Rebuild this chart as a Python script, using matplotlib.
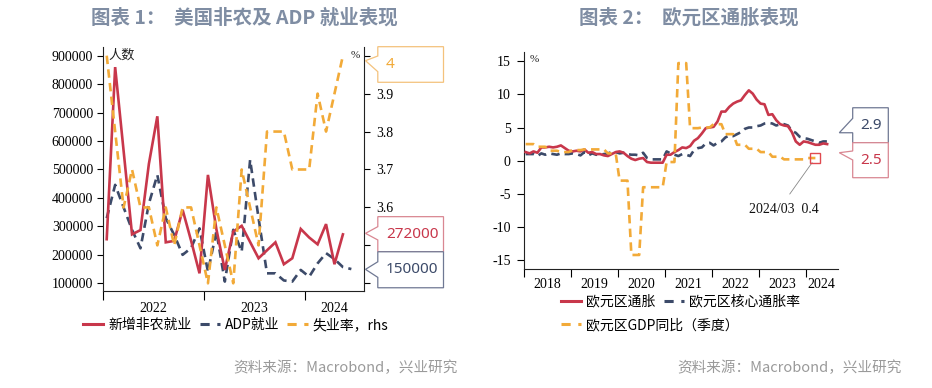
import numpy as np
import matplotlib
matplotlib.use('Agg')
import matplotlib.pyplot as plt
from matplotlib.patches import Polygon
from matplotlib.lines import Line2D
from matplotlib.transforms import IdentityTransform

plt.rcParams['font.family'] = ['Noto Sans CJK SC', 'DejaVu Sans']
plt.rcParams['axes.unicode_minus'] = False

# ---------------- Chart 1 data (monthly, from 2022-01) ----------------
years1 = ['2022', '2023', '2024']
nfp = [255000, 860000, 566000, 272000, 287000, 520000, 687000, 244000, 249000,
       358000, 250000, 135000, 481000, 290000, 147000, 282000, 302000, 245000,
       188000, 216000, 244000, 167000, 188000, 291000, 261000, 237000, 308000,
       167000, 272000]
adp = [329000, 446000, 367000, 288000, 223000, 380000, 481000, 329000, 270000,
       200000, 224000, 293000, 141000, 282000, 106000, 288000, 211000, 534000,
       329000, 135000, 135000, 110000, 106000, 147000, 123000, 170000, 206000,
       185000, 157000, 150000]
unemp = [4.0, 3.8, 3.6, 3.7, 3.6, 3.6, 3.5, 3.6, 3.5, 3.6, 3.6, 3.5, 3.4, 3.6,
         3.5, 3.4, 3.7, 3.6, 3.5, 3.8, 3.8, 3.8, 3.7, 3.7, 3.7, 3.9, 3.8, 3.9, 4.0]
labels1 = ['新增非农就业', 'ADP就业', '失业率，rhs']
rhs_ticks = [3.4, 3.5, 3.6, 3.7, 3.8, 3.9, 4.0]
rhs_labels = ['', '', '3.6', '3.7', '3.8', '3.9', '']

# ---------------- Chart 2 data (monthly from 2018-01; GDP quarterly) ----------------
years2 = ['2018', '2019', '2020', '2021', '2022', '2023', '2024']
hicp = [1.3, 1.1, 1.4, 1.2, 2.0, 2.0, 2.1, 2.0, 2.1, 2.3, 1.9, 1.5,
        1.4, 1.5, 1.4, 1.7, 1.2, 1.3, 1.0, 1.0, 0.8, 0.7, 1.0, 1.3,
        1.4, 1.2, 0.7, 0.3, 0.1, 0.3, 0.4, -0.2, -0.3, -0.3, -0.3, -0.3,
        0.9, 0.9, 1.3, 1.6, 2.0, 1.9, 2.2, 3.0, 3.4, 4.1, 4.9, 5.0,
        5.1, 5.9, 7.4, 7.4, 8.1, 8.6, 8.9, 9.1, 9.9, 10.6, 10.1, 9.2,
        8.6, 8.5, 6.9, 7.0, 6.1, 5.5, 5.3, 5.2, 4.3, 2.9, 2.4, 2.9,
        2.8, 2.6, 2.4, 2.4, 2.6, 2.5]
core = [1.0, 1.0, 1.0, 0.7, 1.1, 0.9, 1.1, 1.0, 0.9, 1.1, 1.0, 1.0,
        1.1, 1.0, 0.8, 1.3, 0.8, 1.1, 0.9, 0.9, 1.0, 1.1, 1.3, 1.3,
        1.1, 1.2, 1.0, 0.9, 0.9, 0.8, 1.2, 0.4, 0.2, 0.2, 0.2, 0.2,
        1.4, 1.1, 0.9, 0.7, 1.0, 0.9, 0.7, 1.6, 1.9, 2.0, 2.6, 2.7,
        2.3, 2.7, 2.9, 3.5, 3.8, 3.7, 4.0, 4.3, 4.8, 5.0, 5.0, 5.2,
        5.3, 5.6, 5.7, 5.6, 5.3, 5.5, 5.5, 5.3, 4.5, 4.2, 3.6, 3.4,
        3.3, 3.1, 2.9, 2.7, 2.9, 2.9]
gdp_q = [2.5, 2.1, 1.5, 1.3, 1.6, 1.7, 1.7, 1.1, -3.0, -14.2, -4.0, -4.0,
         -0.2, 14.7, 4.9, 5.0, 5.5, 4.0, 2.4, 1.8, 1.3, 0.6, 0.2, 0.2, 0.4]
labels2 = ['欧元区通胀', '欧元区核心通胀率', '欧元区GDP同比（季度）']
gdp_note = '2024/03  0.4'

source = '资料来源：Macrobond，兴业研究'

RED = '#c8374b'
NAVY = '#3c4a69'
ORANGE = '#f2aa38'
TITLE_C = '#7f8da3'
W, H = 932, 388
SERIF = ['Liberation Serif', 'DejaVu Serif']

fig = plt.figure(figsize=(W / 100, H / 100), dpi=100)


def fx(px):
    return px / W


def fy(py):
    return 1 - py / H


# ================= Chart 1 =================
ax1 = fig.add_axes([fx(102.5), fy(291), fx(364 - 102.5), (291 - 47) / H])
ax1r = ax1.twinx()
x_nfp = np.arange(len(nfp)) + 0.5
x_adp = np.arange(len(adp)) + 0.5
x_un = np.arange(len(unemp)) + 0.5
DASH = (3.2, 2.0)
ax1.plot(x_nfp, nfp, color=RED, lw=1.9, solid_joinstyle='miter', zorder=3)
ax1.plot(x_adp, adp, color=NAVY, lw=1.9, dashes=DASH, zorder=2)
ax1r.plot(x_un, unemp, color=ORANGE, lw=1.9, dashes=DASH, zorder=2)

ax1.set_xlim(0, 31)
ax1.set_ylim(72900, 930600)
ax1r.set_ylim(3.3797, 4.0229)
ax1.set_yticks(np.arange(100000, 900001, 100000))
ax1.set_yticklabels([str(v) for v in range(100000, 900001, 100000)], family=SERIF, fontsize=10)
ax1r.set_yticks(rhs_ticks)
ax1r.set_yticklabels(rhs_labels, family=SERIF, fontsize=10)
ax1.set_xticks([0, 12, 24])
ax1.set_xticklabels([])
ax1.set_xticks([6, 18, 27.5], minor=True)
ax1.set_xticklabels(years1, minor=True, family=SERIF, fontsize=10)
ax1.tick_params(axis='x', which='major', length=6.5, width=0.8, direction='out')
ax1.tick_params(axis='x', which='minor', length=0, pad=8)
ax1.tick_params(axis='y', length=4.3, width=0.8, direction='out', pad=2.5)
ax1r.tick_params(axis='y', length=4.3, width=0.8, direction='out', pad=4.8)
for a in (ax1, ax1r):
    a.spines['top'].set_visible(False)
    a.patch.set_visible(False)
ax1.spines['right'].set_visible(False)
ax1r.spines['left'].set_visible(False)
ax1r.spines['bottom'].set_visible(False)
for sp in ['left', 'bottom']:
    ax1.spines[sp].set_linewidth(0.8)
    ax1.spines[sp].set_color('#222222')
ax1r.spines['right'].set_linewidth(0.8)
ax1r.spines['right'].set_color('#222222')

fig.text(fx(108), fy(55), '人数', fontsize=9.5, va='center', ha='left', color='#222')
fig.text(fx(351), fy(55), '%', fontsize=8, va='center', ha='left', color='#222', family=SERIF)

# legend chart 1
h1 = [Line2D([], [], color=RED, lw=2.2),
      Line2D([], [], color=NAVY, lw=2.2, dashes=(3, 2.5)),
      Line2D([], [], color=ORANGE, lw=2.2, dashes=(3, 2.5))]
fig.legend(h1, labels1, loc='center left', bbox_to_anchor=(fx(83), fy(325)), ncol=3,
           frameon=False, fontsize=10, handlelength=1.45, handletextpad=0.35,
           columnspacing=0.6, borderpad=0, borderaxespad=0)


# ================= Chart 2 =================
ax2 = fig.add_axes([fx(523.7), fy(269.3), fx(837.7 - 523.7), (269.3 - 51.7) / H])
xm = np.arange(len(hicp)) + 0.5
gdp_m = np.repeat(gdp_q, 3)
xg = np.arange(len(gdp_m)) + 0.5
ax2.plot(xm, hicp, color=RED, lw=1.9, zorder=3)
ax2.plot(np.arange(len(core)) + 0.5, core, color=NAVY, lw=1.9, dashes=DASH, zorder=2)
ax2.plot(xg, gdp_m, color=ORANGE, lw=1.9, dashes=DASH, zorder=4)
ax2.plot([xg[-1]], [gdp_m[-1]], marker='s', ms=7, mfc='none', mec='#e0494f', mew=1.0, zorder=5)
ax2.annotate(gdp_note, xy=(xg[-1], gdp_m[-1]), xytext=(-22.8, -36.7), textcoords='offset points',
             ha='center', va='center', fontsize=10, family=SERIF, color='#111',
             arrowprops=dict(arrowstyle='-', color='#888888', lw=0.6, shrinkA=5, shrinkB=4,
                             relpos=(0.5, 1.0)))

ax2.set_xlim(0, 80.2)
ax2.set_ylim(-16.36, 16.42)
yt = np.arange(-15, 16, 5)
ax2.set_yticks(yt)
ax2.set_yticklabels([str(v) for v in yt], family=SERIF, fontsize=10)
ax2.set_xticks(np.arange(0, 73, 12))
ax2.set_xticklabels([])
ax2.set_xticks(list(np.arange(6, 67, 12)) + [(72 + 80.2) / 2], minor=True)
ax2.set_xticklabels(years2, minor=True, family=SERIF, fontsize=10)
ax2.tick_params(axis='x', which='major', length=5.5, width=0.8, direction='out')
ax2.tick_params(axis='x', which='minor', length=0, pad=6.5)
ax2.tick_params(axis='y', length=5, width=0.8, direction='out', pad=4.5)
ax2.spines['top'].set_visible(False)
ax2.spines['right'].set_visible(False)
for sp in ['left', 'bottom']:
    ax2.spines[sp].set_linewidth(0.8)
    ax2.spines[sp].set_color('#222222')
ax2.patch.set_visible(False)
fig.text(fx(530), fy(60), '%', fontsize=8, va='center', ha='left', color='#222', family=SERIF)

h2a = [Line2D([], [], color=RED, lw=2.2), Line2D([], [], color=NAVY, lw=2.2, dashes=(3, 2.5))]
fig.legend(h2a, labels2[:2], loc='center left', bbox_to_anchor=(fx(561), fy(301.7)), ncol=2,
           frameon=False, fontsize=10, handlelength=1.45, handletextpad=0.35,
           columnspacing=0.6, borderpad=0, borderaxespad=0)
h2b = [Line2D([], [], color=ORANGE, lw=2.2, dashes=(3, 2.5))]
fig.legend(h2b, labels2[2:], loc='center left', bbox_to_anchor=(fx(561), fy(325)), ncol=1,
           frameon=False, fontsize=10, handlelength=1.45, handletextpad=0.35,
           borderpad=0, borderaxespad=0)


# ================= Callouts =================
def callout(ax, value, text, ec, tc, tip_dx, tip_dy, box_dx, box_w, box_top, box_h, base_top, base_bot):
    """Offsets in pixels relative to the point (axis right edge, value); downward positive."""
    tx, ty = ax.get_yaxis_transform().transform((1.0, value))
    tipx, tipy = tx + tip_dx, ty - tip_dy
    L = tx + box_dx
    R = L + box_w
    T = ty - box_top
    B = T - box_h
    verts = [(L, T), (R, T), (R, B), (L, B), (L, ty - base_bot), (tipx, tipy), (L, ty - base_top)]
    p = Polygon(verts, closed=True, transform=IdentityTransform(), facecolor='white',
                edgecolor=ec, lw=0.9, zorder=10)
    fig.add_artist(p)
    fig.text(L + 8, (T + B) / 2, text, transform=IdentityTransform(), ha='left', va='center',
             fontsize=11, color=tc, family=['Noto Sans', 'DejaVu Sans'], zorder=11)


callout(ax1r, unemp[-1], '%g' % unemp[-1], '#f4c27c', ORANGE, 1.5, 5, 13.8, 65.7, -9, 35.6, 0.3, 16)
callout(ax1, nfp[-1], str(nfp[-1]), '#d98792', RED, 1.5, -1, 13.8, 65.7, -17.7, 35.0, -7.7, 5.6)
callout(ax1, adp[-1], str(adp[-1]), '#6f7893', NAVY, 1.5, 0.3, 13.8, 65.7, -17.3, 36.0, -7.3, 8.3)
callout(ax2, core[-1], '%g' % core[-1], '#6f7893', NAVY, 1.6, -8.7, 15, 35.6, -33.7, 35.0, -23.1, -8.7)
callout(ax2, hicp[-1], '%g' % hicp[-1], '#d98792', RED, 1.6, 8.6, 15, 35.6, -1.4, 35.0, 6.9, 15.9)

# ================= Titles & sources =================
fig.text(fx(244.5), fy(17.5), '图表 1：  美国非农及 ADP 就业表现', ha='center', va='center',
         fontsize=14, fontweight='bold', color=TITLE_C)
fig.text(fx(688.5), fy(17.5), '图表 2：  欧元区通胀表现', ha='center', va='center',
         fontsize=14, fontweight='bold', color=TITLE_C)
fig.text(fx(458), fy(368), source, ha='right', va='center', fontsize=10.5, color='#9a9a9a')
fig.text(fx(902), fy(368), source, ha='right', va='center', fontsize=10.5, color='#9a9a9a')

fig.savefig('out.png', dpi=100)
